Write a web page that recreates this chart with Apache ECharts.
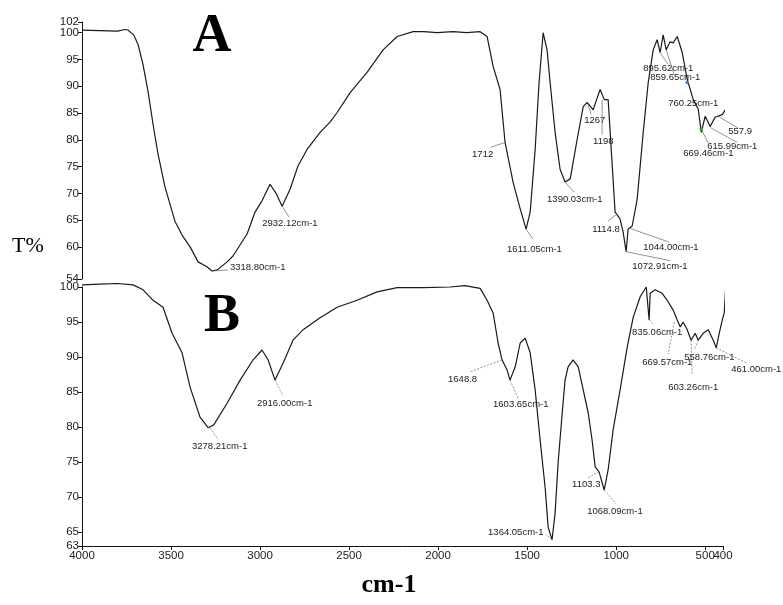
<!DOCTYPE html>
<html><head><meta charset="utf-8">
<script src="https://cdn.jsdelivr.net/npm/echarts@6/dist/echarts.min.js"></script>
<style>html,body{margin:0;padding:0;background:#fff}#c{width:783px;height:605px}</style>
</head><body><div id="c"></div>
<script>
// ---- Spectrum A ----
const wavenumbersA = [4000,3900,3800,3760,3742,3710,3685,3657,3629,3601,3573,3534,3478,3438,3393,3348,3298,3270,3240,3185,3152,3073,3028,2989,2944,2910,2876,2831,2787,2736,2663,2607,2567,2494,2399,2309,2230,2140,2080,2006,1916,1840,1764,1725,1691,1652,1624,1579,1539,1506,1483,1455,1433,1410,1400,1388,1371,1343,1315,1287,1258,1219,1185,1163,1129,1110,1090,1067,1045,1022,1006,990,978,961,944,933,910,882,848,820,792,770,753,736,719,697,680,657,629,601,567,539,522,500,472,444,404,376,343,315,292,275,264,258,247,242,240];
const transmittanceA = [100.5,100.4,100.3,100.6,100.5,99.6,97.8,94.0,89.0,82.9,77.3,71.2,64.8,62.2,60.0,57.2,56.3,55.5,55.7,57.2,58.3,62.4,66.5,68.6,71.7,70.0,67.6,70.8,75.1,78.2,81.4,83.3,85.1,88.8,92.6,96.8,99.3,100.2,100.2,100.0,100.2,100.0,100.2,99.3,93.7,89.4,79.5,72.1,67.1,63.3,66.5,78.2,90.7,100.0,98.5,96.8,90.7,81.4,74.5,72.1,72.7,80.1,86.2,87.0,85.6,87.5,89.4,87.5,87.5,75.1,66.5,65.8,65.2,62.8,59.1,63.3,63.9,68.9,81.4,90.7,96.8,98.7,96.3,99.6,96.8,98.3,98.1,99.3,96.3,91.3,87.5,85.7,81.4,84.4,82.5,84.2,84.7,86.2,90.7,94.4,95.5,99.3,98.1,96.3,100.6,95.5,101.0];

// ---- Spectrum B ----
const wavenumbersB = [4000,3900,3800,3713,3657,3601,3545,3494,3438,3393,3337,3292,3260,3185,3112,3039,2989,2955,2916,2871,2815,2758,2663,2567,2455,2343,2230,2084,1933,1850,1764,1725,1691,1663,1641,1612,1596,1567,1539,1511,1483,1455,1427,1399,1382,1360,1343,1326,1303,1287,1270,1242,1213,1185,1157,1135,1118,1096,1067,1045,1017,978,938,904,865,831,815,809,781,742,713,680,657,640,624,601,579,556,539,511,483,455,438,421,404,393,385];
const transmittanceB = [100.3,100.4,100.5,100.3,99.6,98.1,97.1,93.4,90.6,85.7,81.4,79.9,80.3,83.4,86.7,89.6,91.0,89.6,86.7,89.1,92.4,93.9,95.6,97.1,98.1,99.3,99.9,99.9,100.0,100.2,99.8,98.1,96.3,92.0,89.6,88.1,86.7,88.6,92.0,92.7,90.6,85.3,78.1,71.4,65.7,63.9,67.7,74.9,82.0,86.7,88.6,89.6,88.6,85.3,82.0,78.1,74.3,73.6,71.0,73.9,79.6,85.3,91.4,95.7,98.6,100.0,95.3,99.1,99.6,99.1,98.1,96.7,95.3,94.3,95.0,93.9,92.4,93.4,92.4,93.4,93.9,92.4,91.3,93.4,95.3,96.3,99.9];

// ---- Peak annotations ----
const peakLabelsA = ['3318.80cm-1','2932.12cm-1','1712','1611.05cm-1','1390.03cm-1','1267','1198','1114.8','1044.00cm-1','1072.91cm-1','895.62cm-1','859.65cm-1','760.25cm-1','557.9','615.99cm-1','669.46cm-1'];
const peakWavenumbersA = [3270,2876,1624,1506,1287,1163,1079,1000,927,944,753,719,601,427,472,522];
const peakTransmittanceA = [55.5,67.6,79.5,63.3,72.1,87.0,87.5,66.0,63.5,59.1,96.3,96.8,90.7,84.4,82.3,82.0];

const peakLabelsB = ['3278.21cm-1','2916.00cm-1','1648.8','1603.65cm-1','1364.05cm-1','1103.3','1068.09cm-1','835.06cm-1','669.57cm-1','603.26cm-1','558.76cm-1','461.00cm-1'];
const peakWavenumbersB = [3281,2916,1641,1596,1360,1096,1067,815,674,579,539,438];
const peakTransmittanceB = [79.9,86.7,89.6,86.7,63.9,73.6,71.0,95.3,95.0,92.4,92.4,91.3];

// ---- Axis ticks (split in two sets so close neighbours are not auto-hidden) ----
const yTicksA = [54,60,65,70,75,80,85,90,95,100];
const yTicksAExtra = [102];
const yTicksB = [63,65,70,75,80,85,90,95,100];
const xTicks = [4000,3500,3000,2500,2000,1500,1000,500];
const xTicksExtra = [400];

// ---- Layout (pixel offsets of leader line end and label, relative to the peak) ----
const layoutA = [[16,-1,18,-4],[7,11,-20,17],[-15,5,-33,12],[7,10,-19,20],[9,10,-18,17],[4,12,-3,18],[0,35,-9,42],[-8,6,-24,15],[40,14,14,19],[44,9,6,15],[8,12,-17,16],[8,25,-16,28],[0,0,-19,21],[20,12,10,15],[27,15,-3,19],[7,14,-18,24]];
const markerA = {12:'#3a7bd5',15:'#2ca02c'};
const layoutB = [[8,12,-18,19],[8,16,-18,23],[-32,12,-54,20],[8,18,-17,24],[-6,-5,-64,-7],[-11,6,-27,13],[12,14,-17,21],[4,4,-17,12],[-6,32,-32,40],[1,35,-23,47],[-4,10,-14,17],[30,15,15,21]];
const markerB = {};

function zip(a,b){return a.map((v,i)=>[v,b[i]]);}

function makeRender(texts, layouts, markers, dashed){
  return function(params, api){
    const i = params.dataIndex;
    const p = api.coord([api.value(0), api.value(1)]);
    const L = layouts[i];
    const ch = [];
    if (L[0] || L[1]) ch.push({type:'line', shape:{x1:p[0],y1:p[1],x2:p[0]+L[0],y2:p[1]+L[1]}, style:{stroke:'#666',lineWidth:0.7,lineDash:dashed?[2,1.5]:null}});
    if (markers[i]) ch.push({type:'circle', shape:{cx:p[0],cy:p[1],r:1.8}, style:{fill:markers[i]}});
    ch.push({type:'text', x:p[0]+L[2], y:p[1]+L[3], style:{text:texts[i], fill:'#222', fontSize:9.5, fontFamily:'"Liberation Sans", Arial, sans-serif', align:'left', verticalAlign:'middle'}});
    return {type:'group', children:ch};
  };
}

const labelFont = {color:'#222', fontSize:11.5, fontFamily:'"Liberation Sans", Arial, sans-serif', formatter:function(v){return String(v);}};
const axisBlack = {show:true, lineStyle:{color:'#111', width:1}};

function yAxisDef(grid, min, max, ticks, showLine){
  return {gridIndex:grid, type:'value', min:min, max:max,
    axisLine:showLine ? axisBlack : {show:false}, splitLine:{show:false},
    axisTick:{show:true, length:4, customValues:ticks, lineStyle:{color:'#111'}},
    axisLabel:Object.assign({customValues:ticks, margin:3, showMinLabel:true, showMaxLabel:true, hideOverlap:false}, labelFont)};
}
function xAxisDef(grid, ticks, showLine){
  return {gridIndex:grid, type:'value', min:400, max:4000, inverse:true, position:'bottom',
    axisLine:showLine ? axisBlack : {show:false}, splitLine:{show:false},
    axisTick:{show:true, length:4, customValues:ticks, lineStyle:{color:'#111'}},
    axisLabel:Object.assign({customValues:ticks, margin:4, showMinLabel:true, showMaxLabel:true, hideOverlap:false}, labelFont)};
}

const chart = echarts.init(document.getElementById('c'));
chart.setOption({
  animation:false,
  backgroundColor:'#fff',
  grid:[
    {left:82, right:60, top:22, bottom:326, outerBoundsMode:'none'},
    {left:82, right:60, top:287, bottom:59, outerBoundsMode:'none'}
  ],
  xAxis:[
    {gridIndex:0, type:'value', min:400, max:4000, inverse:true, show:false},
    xAxisDef(1, xTicks, true),
    xAxisDef(1, xTicksExtra, false)
  ],
  yAxis:[
    yAxisDef(0, 54, 102, yTicksA, true),
    yAxisDef(1, 63, 100, yTicksB, true),
    Object.assign(yAxisDef(0, 54, 102, yTicksAExtra, false), {position:'left', offset:0})
  ],
  series:[
    {type:'line', xAxisIndex:0, yAxisIndex:0, data:zip(wavenumbersA, transmittanceA), showSymbol:false, clip:false, silent:true, lineStyle:{color:'#1a1a1a', width:1.2}},
    {type:'line', xAxisIndex:1, yAxisIndex:1, data:zip(wavenumbersB, transmittanceB), showSymbol:false, clip:false, silent:true, lineStyle:{color:'#1a1a1a', width:1.2}},
    {type:'custom', xAxisIndex:0, yAxisIndex:0, data:zip(peakWavenumbersA, peakTransmittanceA), renderItem:makeRender(peakLabelsA, layoutA, markerA, false), silent:true, z:5},
    {type:'custom', xAxisIndex:1, yAxisIndex:1, data:zip(peakWavenumbersB, peakTransmittanceB), renderItem:makeRender(peakLabelsB, layoutB, markerB, true), silent:true, z:5}
  ],
  graphic:[
    {type:'text', x:212, y:37, style:{text:'A', fill:'#000', font:'bold 54px "Liberation Serif", "Times New Roman", serif', align:'center', verticalAlign:'middle'}},
    {type:'text', x:222, y:317, style:{text:'B', fill:'#000', font:'bold 54px "Liberation Serif", "Times New Roman", serif', align:'center', verticalAlign:'middle'}},
    {type:'text', x:28, y:246, style:{text:'T%', fill:'#000', font:'22px "Liberation Serif", "Times New Roman", serif', align:'center', verticalAlign:'middle'}},
    {type:'text', x:389, y:585, style:{text:'cm-1', fill:'#000', font:'bold 26px "Liberation Serif", "Times New Roman", serif', align:'center', verticalAlign:'middle'}}
  ]
});
</script>
</body></html>
